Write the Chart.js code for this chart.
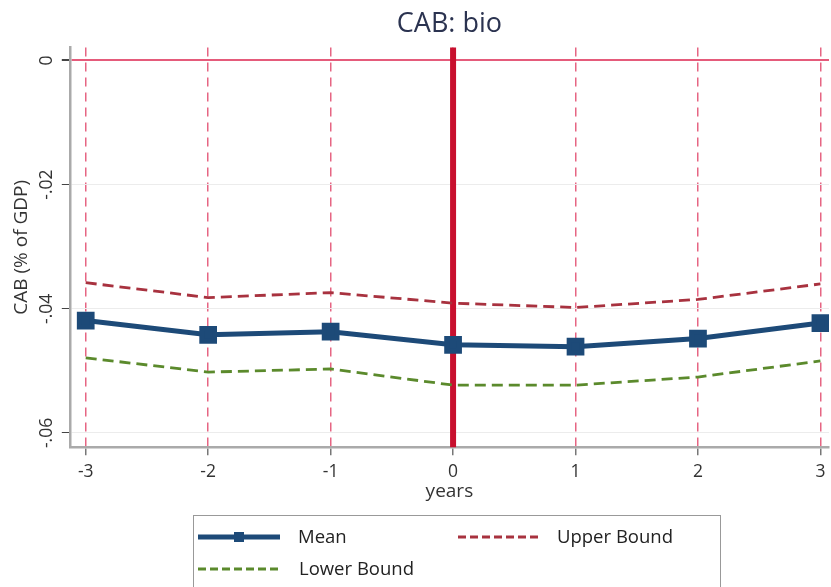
<!DOCTYPE html>
<html>
<head>
<meta charset="utf-8">
<script src="https://cdn.jsdelivr.net/npm/chart.js@4"></script>
<style>
  html,body{margin:0;padding:0;background:#fff}
  #wrap{width:831px;height:587px}
</style>
</head>
<body>
<div id="wrap"><canvas id="chart" width="831" height="587"></canvas></div>
<script>
// values
const years = [-3, -2, -1, 0, 1, 2, 3];
const meanVals  = [-0.0419, -0.0442, -0.0437, -0.0458, -0.0461, -0.0448, -0.0423];
const upperVals = [-0.0358, -0.0382, -0.0374, -0.0391, -0.0398, -0.0385, -0.0360];
const lowerVals = [-0.0479, -0.0502, -0.0497, -0.0523, -0.0523, -0.0510, -0.0484];
const yTicks = [0, -0.02, -0.04, -0.06];
const legendItems = ['Mean', 'Upper Bound', 'Lower Bound'];

const FONT = '"Open Sans", "Noto Sans", sans-serif';
const BLUE = '#1d4a78', RED = '#a8323f', GREEN = '#5b8a2c', CRIMSON = '#c8102e';

const pts = vals => years.map((x, i) => ({x, y: vals[i]}));
const fmtY = v => v === 0 ? '0' : v.toFixed(2).replace('0.', '.');

// thick red line at year 0, under the series
const zeroLine = {
  id: 'zeroLine',
  beforeDatasetsDraw(chart){
    const {ctx, chartArea, scales:{x}} = chart;
    const px = x.getPixelForValue(0);
    ctx.save();
    ctx.strokeStyle = CRIMSON; ctx.lineWidth = 6;
    ctx.beginPath(); ctx.moveTo(px, chartArea.top); ctx.lineTo(px, chartArea.bottom); ctx.stroke();
    ctx.restore();
  }
};

// y labels turned on their side and centred on the tick (stata style)
const sideLabels = {
  id: 'sideLabels',
  afterDraw(chart){
    const {ctx, chartArea, scales:{y}} = chart;
    ctx.save();
    ctx.fillStyle = '#333';
    ctx.font = '17.5px ' + FONT;
    ctx.textAlign = 'center'; ctx.textBaseline = 'middle';
    y.ticks.forEach(t => {
      ctx.save();
      ctx.translate(chartArea.left - 23, y.getPixelForValue(t.value));
      ctx.rotate(-Math.PI / 2);
      ctx.fillText(fmtY(t.value), 0, 0);
      ctx.restore();
    });
    ctx.restore();
  }
};

// boxed legend below the axis, two columns like the original
const boxLegend = {
  id: 'boxLegend',
  afterDraw(chart){
    const ctx = chart.ctx;
    const ds = chart.data.datasets;
    ctx.save();
    ctx.strokeStyle = '#999'; ctx.lineWidth = 1;
    ctx.strokeRect(193.5, 515.5, 527, 80);
    const slots = [[198, 537], [458, 537], [198, 569]];
    const textX = [298, 557, 299];
    ds.forEach((d, i) => {
      const [sx, sy] = slots[i];
      ctx.strokeStyle = d.borderColor; ctx.lineWidth = d.borderWidth;
      ctx.setLineDash(d.borderDash ? [8, 4] : []);
      ctx.beginPath(); ctx.moveTo(sx, sy); ctx.lineTo(sx + 82, sy); ctx.stroke();
      ctx.setLineDash([]);
      if (d.pointRadius > 0) {
        ctx.fillStyle = d.borderColor;
        ctx.fillRect(sx + 41 - 5, sy - 5, 10, 10);
      }
      ctx.fillStyle = '#222';
      ctx.font = '18.5px ' + FONT;
      ctx.textBaseline = 'middle';
      ctx.fillText(legendItems[i], textX[i], sy + 1);
    });
    ctx.restore();
  }
};

new Chart(document.getElementById('chart'), {
  type: 'line',
  data: {
    datasets: [
      { label: legendItems[0], data: pts(meanVals), borderColor: BLUE, backgroundColor: BLUE,
        borderWidth: 5, pointStyle: 'rect', pointRadius: 9, pointHoverRadius: 9, order: 0 },
      { label: legendItems[1], data: pts(upperVals), borderColor: RED, borderWidth: 2.8,
        borderDash: [11, 6], pointRadius: 0, order: 1 },
      { label: legendItems[2], data: pts(lowerVals), borderColor: GREEN, borderWidth: 2.8,
        borderDash: [11, 6], pointRadius: 0, order: 2 }
    ]
  },
  options: {
    responsive: false,
    animation: false,
    layout: { autoPadding: false, padding: { top: 8, right: 2, bottom: 80, left: 6 } },
    plugins: {
      legend: { display: false },
      tooltip: { enabled: false },
      title: { display: true, text: 'CAB: bio', fullSize: false, color: '#2b3350',
        font: { family: FONT, size: 27, weight: 'normal' }, padding: { top: 0, bottom: 7 } }
    },
    scales: {
      x: {
        type: 'linear', min: -3.13, max: 3.07,
        afterBuildTicks: s => { s.ticks = years.map(v => ({value: v})); },
        afterFit: s => { s.paddingLeft = 0; s.paddingRight = 0; },
        ticks: { color: '#333', font: { family: FONT, size: 17.5 }, padding: 6, maxRotation: 0 },
        grid: { color: 'rgba(222,50,90,0.75)', lineWidth: 1.5, tickColor: '#777', tickLength: 8 },
        border: { display: true, color: '#aaa', width: 2.5, dash: [9, 6] },
        title: { display: true, text: 'years', color: '#333', font: { family: FONT, size: 19 }, padding: { top: -8 } }
      },
      y: {
        min: -0.0623, max: 0.0021,
        afterBuildTicks: s => { s.ticks = yTicks.map(v => ({value: v})); },
        ticks: { color: 'rgba(0,0,0,0)', font: { family: FONT, size: 17.5 }, minRotation: 90, maxRotation: 90,
          padding: 4, callback: fmtY },
        grid: {
          color: c => c.tick && c.tick.value === 0 ? 'rgba(222,50,90,0.8)' : '#ececec',
          lineWidth: c => c.tick && c.tick.value === 0 ? 2 : 1,
          tickColor: '#444', tickLength: 8
        },
        border: { display: true, color: '#aaa', width: 2.5 },
        title: { display: true, text: 'CAB (% of GDP)', color: '#333', font: { family: FONT, size: 19 }, padding: { bottom: 0 } }
      }
    }
  },
  plugins: [zeroLine, sideLabels, boxLegend]
});
</script>
</body>
</html>
